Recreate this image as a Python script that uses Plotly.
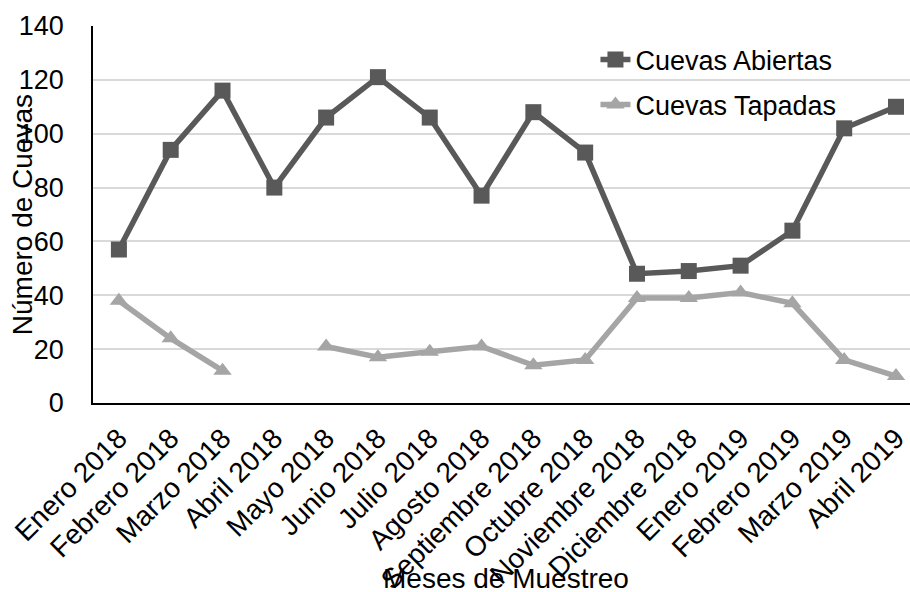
import plotly.graph_objects as go

meses = [
    "Enero 2018", "Febrero 2018", "Marzo 2018", "Abril 2018", "Mayo 2018",
    "Junio 2018", "Julio 2018", "Agosto 2018", "Septiembre 2018", "Octubre 2018",
    "Noviembre 2018", "Diciembre 2018", "Enero 2019", "Febrero 2019",
    "Marzo 2019", "Abril 2019",
]
cuevas_abiertas = [57, 94, 116, 80, 106, 121, 106, 77, 108, 93, 48, 49, 51, 64, 102, 110]
cuevas_tapadas = [38, 24, 12, None, 21, 17, 19, 21, 14, 16, 39, 39, 41, 37, 16, 10]
y_ticks = [0, 20, 40, 60, 80, 100, 120, 140]

FONT = "Liberation Sans, Arial, sans-serif"

fig = go.Figure()
fig.add_trace(go.Scatter(
    x=meses, y=cuevas_abiertas, name="Cuevas Abiertas", mode="lines+markers",
    line=dict(color="#595959", width=5.5),
    marker=dict(symbol="square", size=16, color="#595959"),
    legendgroup="a",
))
fig.add_trace(go.Scatter(
    x=meses, y=cuevas_tapadas, name="Cuevas Tapadas", mode="lines+markers",
    line=dict(color="#A5A5A5", width=5.5),
    marker=dict(symbol="triangle-up", size=16, color="#A5A5A5"),
    connectgaps=False,
    legendgroup="b",
))

fig.update_layout(
    width=910, height=592,
    margin=dict(l=93, r=0, t=26, b=189),
    paper_bgcolor="white", plot_bgcolor="white",
    font=dict(family=FONT, size=27, color="black"),
    showlegend=True,
    legend=dict(
        x=0.615, y=0.975, xanchor="left", yanchor="top",
        bgcolor="rgba(0,0,0,0)", font=dict(size=27),
        tracegroupgap=7,
    ),
    annotations=[
        dict(text="Número de Cuevas", xref="paper", yref="paper",
             x=-0.086, y=0.5, xanchor="center", yanchor="middle",
             textangle=-90, showarrow=False, font=dict(size=28)),
        dict(text="Meses de Muestreo", xref="paper", yref="paper",
             x=0.505, y=-0.465, xanchor="center", yanchor="middle",
             showarrow=False, font=dict(size=28)),
    ],
)
fig.update_xaxes(
    type="category", range=[-0.5, 15.27], automargin=False,
    showline=True, linecolor="black", linewidth=1.5,
    showgrid=False, ticks="", tickangle=-45,
    tickfont=dict(size=28), ticklabelstandoff=6,
)
fig.update_yaxes(
    range=[0, 140], tickvals=y_ticks, automargin=False,
    showline=True, linecolor="black", linewidth=1.5,
    showgrid=True, gridcolor="#D9D9D9", gridwidth=1.5,
    zeroline=False, ticks="", tickfont=dict(size=27),
    ticklabelstandoff=22,
)

fig.write_html("out.html")
